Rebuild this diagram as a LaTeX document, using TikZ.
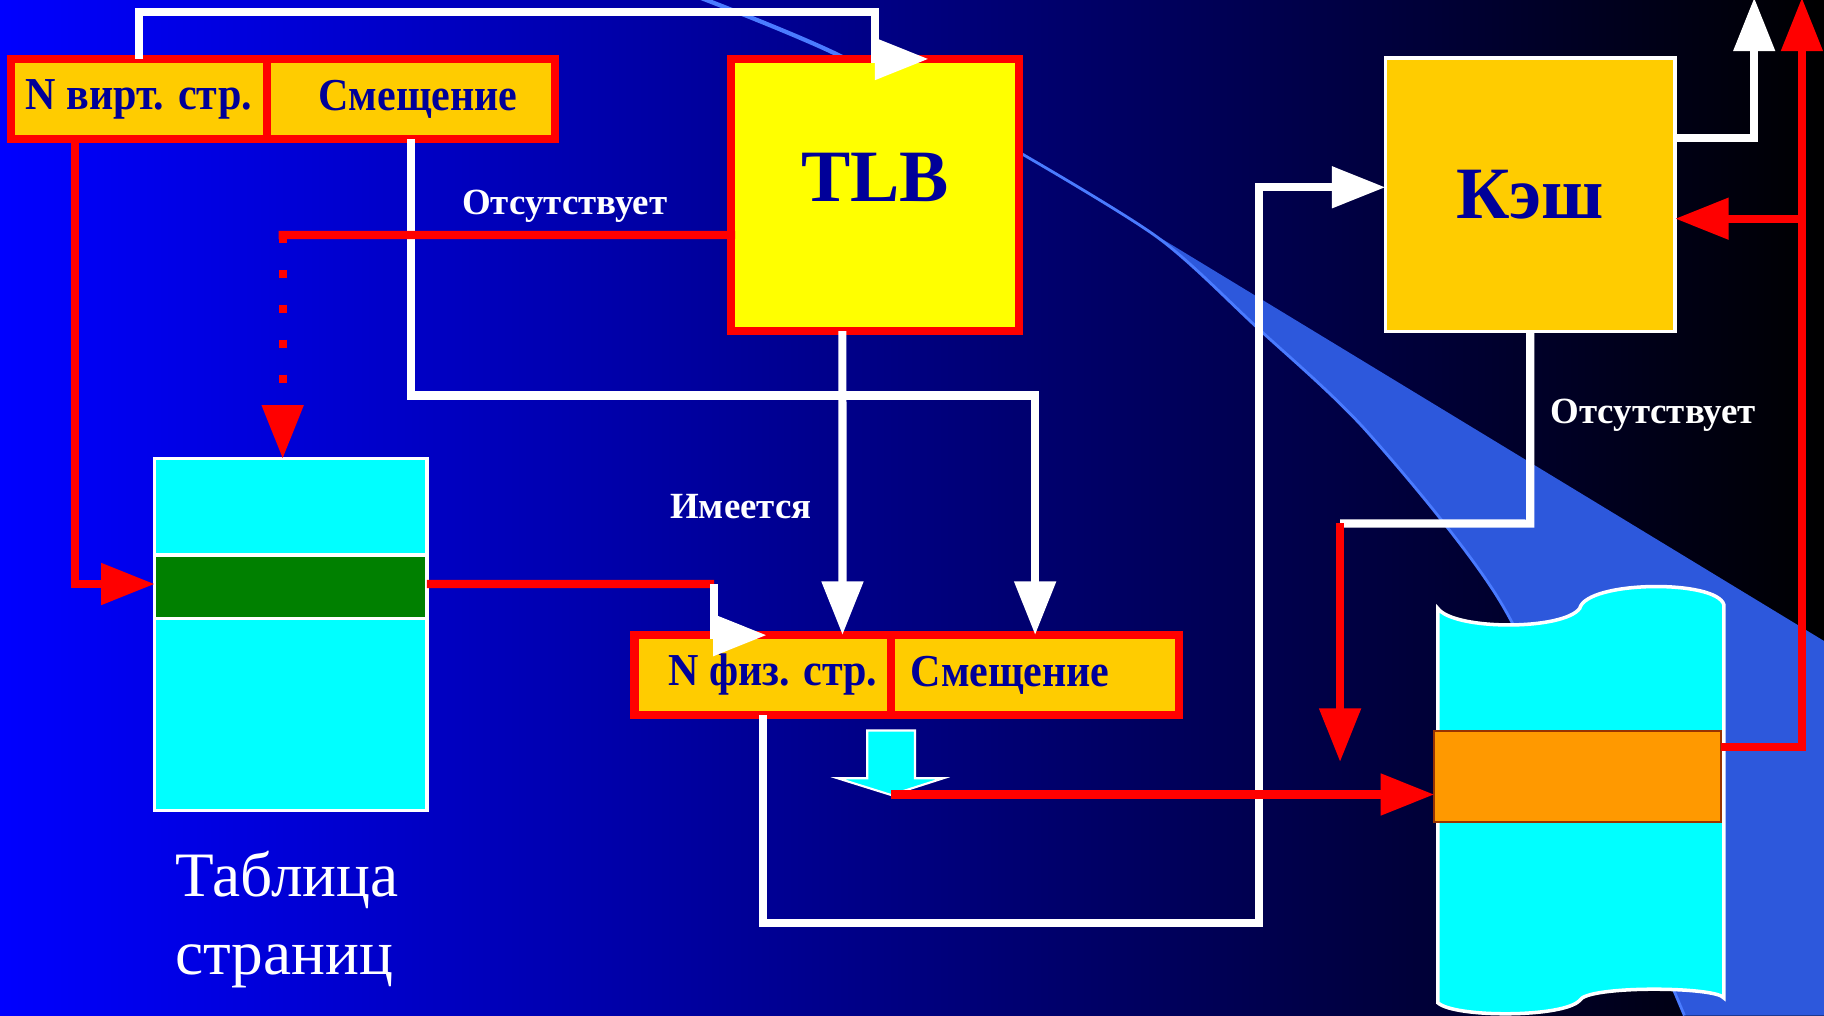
\documentclass[tikz,border=0pt]{standalone}
\usepackage{fontspec}
\setmainfont{Liberation Serif}
\newfontfamily\fieldfont{Liberation Serif}[FakeStretch=0.92]
\usetikzlibrary{arrows.meta,positioning,calc}

\definecolor{gold}{HTML}{FFCC00}
\definecolor{lemon}{HTML}{FFFF00}
\definecolor{aqua}{HTML}{00FFFF}
\definecolor{navy}{HTML}{000099}
\definecolor{swoosh}{HTML}{2D58DC}
\definecolor{swooshline}{HTML}{4A7BFF}
\definecolor{bandorange}{HTML}{FF9900}
\definecolor{bandedge}{HTML}{993300}
\definecolor{tablegreen}{HTML}{008000}

\begin{document}
\begin{tikzpicture}
    [x=0.011633cm, y=-0.011633cm,
    >={Triangle[length=0.535cm,width=0.4cm]},
    % Address fields
    field/.style={rectangle, draw=red, fill=gold, line width=2.3pt, inner sep=0pt, outer sep=0pt, minimum height=0.8cm, font=\fieldfont\bfseries\fontsize{13}{15}\selectfont, text=navy},
    % TLB and cache
    tlbbox/.style={rectangle, draw=red, fill=lemon, line width=2.3pt, inner sep=0pt, outer sep=0pt, minimum width=2.879cm, minimum height=2.721cm, font=\bfseries\fontsize{21}{25}\selectfont, text=navy},
    cachebox/.style={rectangle, draw=white, fill=gold, line width=1pt, inner sep=0pt, outer sep=0pt, minimum width=2.897cm, minimum height=2.734cm, font=\bfseries\fontsize{21}{25}\selectfont, text=navy},
    % Page table and memory
    table/.style={rectangle, draw=white, fill=aqua, line width=1pt, inner sep=0pt, outer sep=0pt, minimum width=2.722cm},
    band/.style={rectangle, line width=0.6pt, inner sep=0pt, outer sep=0pt},
    % Connectors and their labels
    wline/.style={draw=white, line width=2.3pt},
    rline/.style={draw=red, line width=2.3pt},
    lbl/.style={text=white, inner sep=0pt, font=\bfseries\fontsize{10.5}{13}\selectfont}]
    \useasboundingbox (0,0) rectangle (1568,873);
    % Background
    \fill[left color=blue, right color=black] (0,0) rectangle (1568,873);
    \fill[swoosh] (878,132) -- (1568,551) -- (1568,873) -- (1448,873)
        -- plot[smooth] coordinates {(1448,873) (1370,690) (1289,516) (1176,372) (1079,280) (995,204) (878,132)} -- cycle;
    \draw[swooshline, line width=0.8pt] plot[smooth] coordinates {(1448,873) (1370,690) (1289,516) (1176,372) (1079,280) (995,204) (878,132)};
    \draw[swooshline, line width=1.2pt] plot[smooth] coordinates {(602,-2) (720,47) (878,132)};

    % Virtual address
    \node [field, minimum width=2.563cm] (vN) at (119.4,85.1) {N вирт. стр.};
    \node [field, minimum width=2.879cm, right=0pt of vN] (vOff) {\hspace{0.14cm}Смещение};
    % TLB
    \node [tlbbox, text depth=0.35cm] (TLB) at (752.2,167.7) {TLB};
    % Cache
    \node [cachebox] (cache) at (1315.5,167.5) {Кэш};
    % Page table
    \node [table, minimum height=3.518cm] (pt) at (250,545.6) {};
    \node [table, fill=tablegreen, minimum height=0.636cm] (green) at (250,504.35) {};
    \node [text=white, align=left, inner sep=0pt, anchor=base west, font=\fontsize{18}{22.2}\selectfont] (ptLbl) at (150,838) {Таблица\\страниц};
    % Physical address
    \node [field, minimum width=2.565cm] (pN) at (655.75,580.25) {\hspace{0.2cm}N физ. стр.};
    \node [field, minimum width=2.879cm, right=0pt of pN] (pOff) {Смещение\hspace{0.5cm}\mbox{}};
    % Main memory
    \draw[fill=aqua, draw=white, line width=1pt] (1236,523) .. controls (1250,542) and (1344,542) .. (1358,523)
        .. controls (1364,499) and (1476,498) .. (1482,520) -- (1482,858)
        .. controls (1476,848) and (1364,847) .. (1358,860) .. controls (1344,875) and (1250,875) .. (1236,862) -- cycle;
    \node [band, draw=bandedge, fill=bandorange, minimum width=2.862cm, minimum height=0.909cm] (band) at (1356,667.55) {};
    % Physical address arrow
    \draw[fill=aqua, draw=white, line width=0.6pt] (745.5,628) -- (786.6,628) -- (786.6,669) -- (811,669) -- (766,683.4) -- (720,669) -- (745.5,669) -- cycle;
    \coordinate (cyanTip) at (766,683);

    % Virtual page -> TLB
    \draw[wline,->] (vN.north) -- ++(0,-40.7) -| (TLB.north) -- ++(46,0);
    % Offset -> physical offset
    \draw[wline,->] (vOff.south) -- ++(0,220.5) -| (pOff.north);
    % TLB hit
    \draw[wline,->] ($(TLB.south)+(-28,0)$) -- ($(pN.north)+(68.5,0)$);
    \node [lbl, anchor=base] (hitLbl) at (637,445.6) {Имеется};
    % TLB miss
    \coordinate (missT) at (243,202);
    \draw[rline, line cap=rect] ($(TLB.west)+(0,34.3)$) -- (missT);
    \draw[rline, dash pattern=on 0.0814cm off 0.2676cm, ->] (missT) -- ($(pt.north)+(-7,0)$);
    \node [lbl, anchor=base] (missTLbl) at (485.5,184.8) {Отсутствует};
    % Virtual page -> page table
    \draw[rline,->] ($(vN.south west)!0.25!(vN.south east)$) |- ($(green.west)+(0,-2.3)$);
    % Page table -> physical page
    \coordinate (ptOut) at (614,502);
    \draw[rline] ($(green.east)+(0,-2.3)$) -- (ptOut);
    \draw[wline,->] (ptOut) |- ++(45,44);
    % Physical page -> cache
    \draw[wline,->] (pN.south) -- ++(0,179) -| ($(cache.west)+(-108.5,-6.5)$) -- ($(cache.west)+(0,-6.5)$);
    % Cache hit
    \draw[wline,->] ($(cache.east)+(0,-49)$) -| (1508,-2);
    % Cache miss
    \coordinate (missC) at (1152,450);
    \draw[wline] (cache.south) -- ++(0,165) -- (missC);
    \draw[rline,->] (missC) -- ++(0,205);
    \node [lbl, anchor=base] (missCLbl) at (1421,363.9) {Отсутствует};
    % Physical address -> memory
    \draw[rline,->] (cyanTip) -- (cyanTip -| band.west);
    % Memory -> out, memory -> cache
    \draw[rline,->] ($(band.east)+(0,-25.5)$) -| (1549,-2);
    \draw[rline,->] ($(cache.east)+(109,20.5)$) -- ($(cache.east)+(0,20.5)$);
\end{tikzpicture}
\end{document}
